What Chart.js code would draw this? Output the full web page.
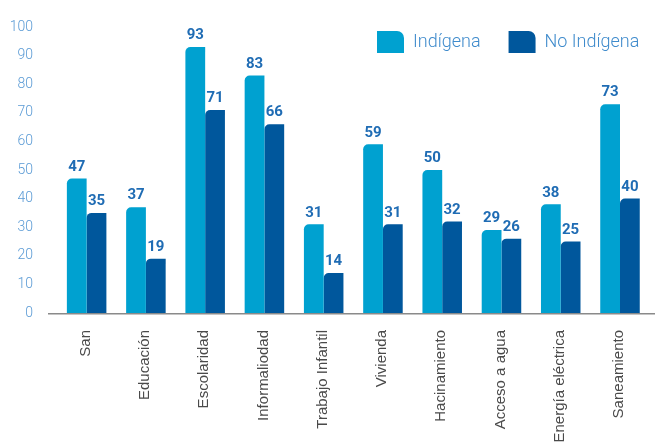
<!DOCTYPE html>
<html><head><meta charset="utf-8">
<script src="https://cdn.jsdelivr.net/npm/chart.js@4"></script>
<style>html,body{margin:0;padding:0;background:#fff}#wrap{width:655px;height:443px}</style>
</head><body><div id="wrap"><canvas id="c" width="655" height="443"></canvas></div>
<script>
const categories = ['San','Educación','Escolaridad','Informaliodad','Trabajo Infantil','Vivienda','Hacinamiento','Acceso a agua','Energía eléctrica','Saneamiento'];
const indigena = [47,37,93,83,31,59,50,29,38,73];
const noIndigena = [35,19,71,66,14,31,32,26,25,40];
const yTicks = [0,10,20,30,40,50,60,70,80,90,100];

const valueLabels = {
  id:'valueLabels',
  afterDatasetsDraw(chart){
    const ctx = chart.ctx;
    ctx.save();
    ctx.font = 'bold 15px Roboto';
    ctx.fillStyle = '#1f6cb4';
    ctx.textAlign = 'center';
    ctx.textBaseline = 'bottom';
    chart.data.datasets.forEach((ds,i)=>{
      chart.getDatasetMeta(i).data.forEach((bar,j)=>{
        ctx.fillText(String(ds.data[j]), bar.x, bar.y - 4);
      });
    });
    ctx.restore();
  }
};
const axisLine = {
  id:'axisLine',
  afterDatasetsDraw(chart){
    const ctx = chart.ctx, a = chart.chartArea;
    ctx.save();
    ctx.strokeStyle = '#8a8a8a';
    ctx.lineWidth = 1.5;
    ctx.beginPath();
    ctx.moveTo(48, a.bottom + 0.75);
    ctx.lineTo(655, a.bottom + 0.75);
    ctx.stroke();
    ctx.restore();
  }
};
const legendNoSpace = {
  id:'legendNoSpace',
  afterInit(chart){
    const lg = chart.legend;
    if(!lg) return;
    const orig = lg.fit;
    lg.fit = function(){ orig.call(this); this.height = 0; };
    lg.draw = function(){
      const hb = this.legendHitBoxes && this.legendHitBoxes[0];
      const dx = hb ? 377 - hb.left : 0;
      const dy = hb ? 31 - hb.top : 0;
      const ctx = this.ctx;
      ctx.save();
      ctx.translate(dx, dy);
      this._draw();
      ctx.restore();
    };
  }
};

new Chart(document.getElementById('c'), {
  type:'bar',
  data:{
    labels: categories,
    datasets:[
      {label:'Indígena', data: indigena, backgroundColor:'#00a1d0', borderRadius:{topLeft:5,topRight:0,bottomLeft:0,bottomRight:0}, borderSkipped:false},
      {label:'No Indígena', data: noIndigena, backgroundColor:'#00579c', borderRadius:{topLeft:5,topRight:0,bottomLeft:0,bottomRight:0}, borderSkipped:false}
    ]
  },
  options:{
    responsive:false,
    animation:false,
    devicePixelRatio:1,
    layout:{padding:{top:27,right:0,left:0,bottom:0}},
    datasets:{bar:{categoryPercentage:0.667, barPercentage:1}},
    plugins:{
      tooltip:{enabled:false},
      legend:{
        position:'top', align:'end',
        labels:{
          boxWidth:27, boxHeight:22, padding:28,
          font:{family:'Roboto', size:18, weight:'300'}, color:'#3f8bcc',
          useBorderRadius:true,
          borderRadius:{topLeft:0,topRight:7,bottomLeft:0,bottomRight:0}
        }
      }
    },
    scales:{
      x:{
        grid:{display:false, drawTicks:false},
        border:{display:false},
        ticks:{
          minRotation:90, maxRotation:90, autoSkip:false,
          padding:17, labelOffset:-1,
          font:{family:'"Liberation Sans", Arial, sans-serif', size:15}, color:'#4a4a4a'
        },
        afterFit(s){ s.height = 130; }
      },
      y:{
        min:0, max:100,
        grid:{display:false, drawTicks:false},
        border:{display:false},
        afterBuildTicks(s){ s.ticks = yTicks.map(v=>({value:v})); },
        ticks:{
          padding:24,
          font:{family:'Roboto', size:14, weight:'300'}, color:'#5b9bd5'
        },
        afterFit(s){ s.width = 57; s.paddingTop = 0; s.paddingBottom = 0; }
      }
    }
  },
  plugins:[valueLabels, axisLine, legendNoSpace]
});
</script>
</body></html>
